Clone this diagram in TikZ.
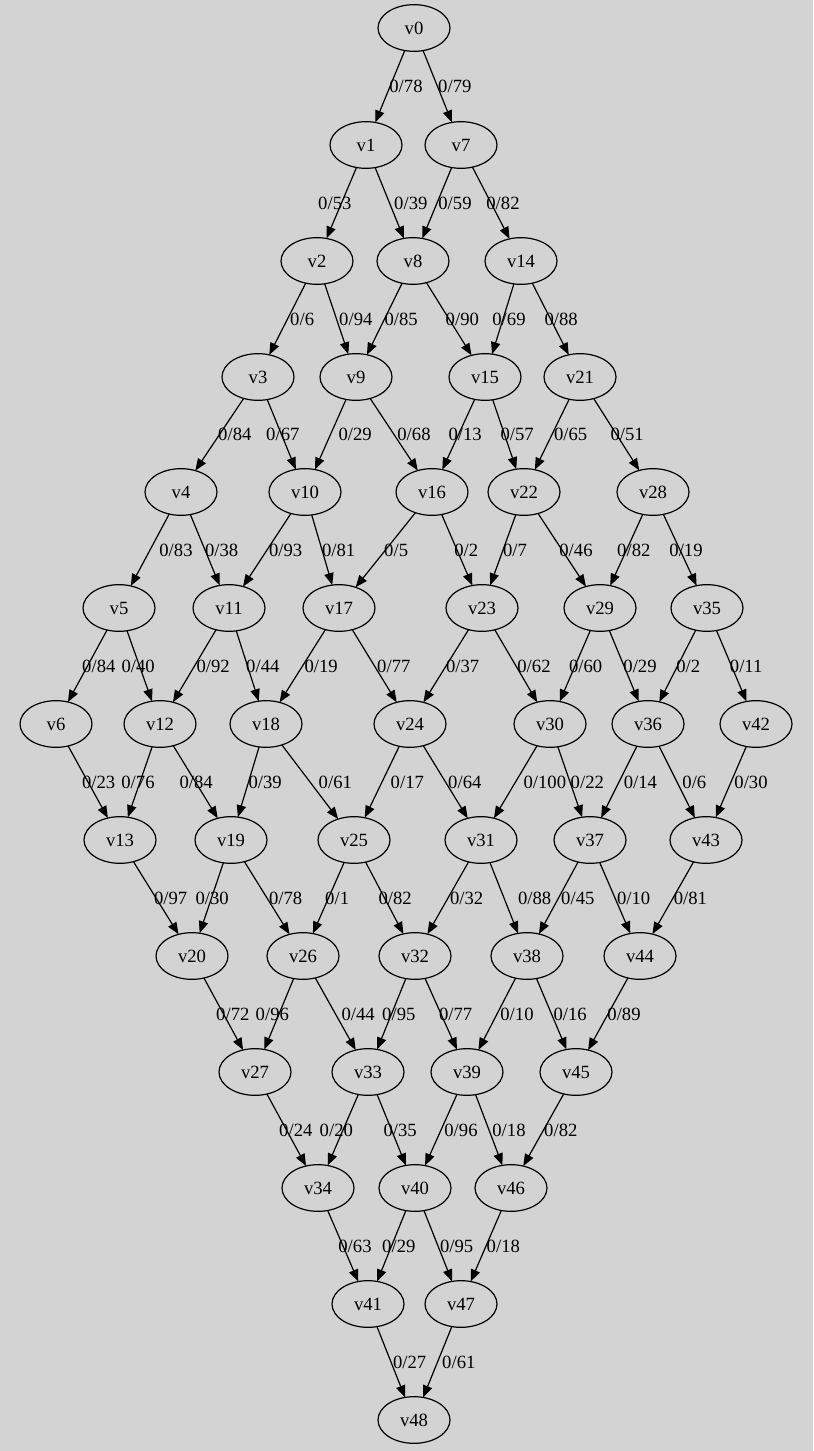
\documentclass[tikz,border=0pt]{standalone}
\usepackage{fontspec}
\setmainfont{Liberation Serif}
\usepackage{xcolor}
\usepackage{tikz}
\usetikzlibrary{shapes.geometric, arrows.meta}
\definecolor{bggray}{RGB}{211,211,211}
\tikzstyle{vertex} = [draw, ellipse, line width=0.9pt, minimum width=54pt, minimum height=35pt, inner sep=0pt, outer sep=0pt, font=\fontsize{14}{16}\selectfont]
\tikzstyle{arrow} = [line width=0.9pt, -{Triangle[length=9pt, width=7pt]}]
\tikzstyle{weight} = [inner sep=0pt, font=\fontsize{14}{16}\selectfont]

\begin{document}
\begin{tikzpicture}[x=0.75pt, y=-0.75pt]
\fill[bggray] (0,0) rectangle (813,1451);
\useasboundingbox (0,0) rectangle (813,1451);
% Vertices
\node[vertex] (v0) at (414,28) {v0};

\node[vertex] (v1) at (366,145) {v1};
\node[vertex] (v7) at (461,145) {v7};

\node[vertex] (v2) at (317,261) {v2};
\node[vertex] (v8) at (413,261) {v8};
\node[vertex] (v14) at (521,261) {v14};

\node[vertex] (v3) at (258,377) {v3};
\node[vertex] (v9) at (356,377) {v9};
\node[vertex] (v15) at (485,377) {v15};
\node[vertex] (v21) at (580,377) {v21};

\node[vertex] (v4) at (181,492) {v4};
\node[vertex] (v10) at (305,492) {v10};
\node[vertex] (v16) at (432,492) {v16};
\node[vertex] (v22) at (524,492) {v22};
\node[vertex] (v28) at (653,492) {v28};

\node[vertex] (v5) at (119,608) {v5};
\node[vertex] (v11) at (229,608) {v11};
\node[vertex] (v17) at (339,608) {v17};
\node[vertex] (v23) at (482,608) {v23};
\node[vertex] (v29) at (600,608) {v29};
\node[vertex] (v35) at (707,608) {v35};

\node[vertex] (v6) at (56,724) {v6};
\node[vertex] (v12) at (160,724) {v12};
\node[vertex] (v18) at (266,724) {v18};
\node[vertex] (v24) at (410,724) {v24};
\node[vertex] (v30) at (550,724) {v30};
\node[vertex] (v36) at (648,724) {v36};
\node[vertex] (v42) at (756,724) {v42};

\node[vertex] (v13) at (120,840) {v13};
\node[vertex] (v19) at (231,840) {v19};
\node[vertex] (v25) at (354,840) {v25};
\node[vertex] (v31) at (481,840) {v31};
\node[vertex] (v37) at (590,840) {v37};
\node[vertex] (v43) at (706,840) {v43};

\node[vertex] (v20) at (192,956) {v20};
\node[vertex] (v26) at (303,956) {v26};
\node[vertex] (v32) at (415,956) {v32};
\node[vertex] (v38) at (527,956) {v38};
\node[vertex] (v44) at (640,956) {v44};

\node[vertex] (v27) at (255,1072) {v27};
\node[vertex] (v33) at (368,1072) {v33};
\node[vertex] (v39) at (467,1072) {v39};
\node[vertex] (v45) at (576,1072) {v45};

\node[vertex] (v34) at (318,1188) {v34};
\node[vertex] (v40) at (415,1188) {v40};
\node[vertex] (v46) at (511,1188) {v46};

\node[vertex] (v41) at (368,1304) {v41};
\node[vertex] (v47) at (461,1304) {v47};

\node[vertex] (v48) at (414,1420) {v48};

% Edges (flow/capacity)
\draw[arrow] (v0) -- node[weight, xshift=12pt] {0/78} (v1);
\draw[arrow] (v0) -- node[weight, xshift=13pt] {0/79} (v7);

\draw[arrow] (v1) -- node[weight, xshift=-5pt] {0/53} (v2);
\draw[arrow] (v1) -- node[weight, xshift=16pt] {0/39} (v8);
\draw[arrow] (v7) -- node[weight, xshift=13.5pt] {0/59} (v8);
\draw[arrow] (v7) -- node[weight, xshift=9pt] {0/82} (v14);

\draw[arrow] (v2) -- node[weight, xshift=11pt] {0/6} (v3);
\draw[arrow] (v2) -- node[weight, xshift=14.5pt] {0/94} (v9);
\draw[arrow] (v8) -- node[weight, xshift=12.5pt] {0/85} (v9);
\draw[arrow] (v8) -- node[weight, xshift=10pt] {0/90} (v15);
\draw[arrow] (v14) -- node[weight, xshift=4.5pt] {0/69} (v15);
\draw[arrow] (v14) -- node[weight, xshift=8pt] {0/88} (v21);

\draw[arrow] (v3) -- node[weight, xshift=11.5pt] {0/84} (v4);
\draw[arrow] (v3) -- node[weight, xshift=1pt] {0/67} (v10);
\draw[arrow] (v9) -- node[weight, xshift=18.5pt] {0/29} (v10);
\draw[arrow] (v9) -- node[weight, xshift=15pt] {0/68} (v16);
\draw[arrow] (v15) -- node[weight, xshift=5pt] {0/13} (v16);
\draw[arrow] (v15) -- node[weight, xshift=9.5pt] {0/57} (v22);
\draw[arrow] (v21) -- node[weight, xshift=14pt] {0/65} (v22);
\draw[arrow] (v21) -- node[weight, xshift=8pt] {0/51} (v28);

\draw[arrow] (v4) -- node[weight, xshift=19.5pt] {0/83} (v5);
\draw[arrow] (v4) -- node[weight, xshift=12.5pt] {0/38} (v11);
\draw[arrow] (v10) -- node[weight, xshift=14pt] {0/93} (v11);
\draw[arrow] (v10) -- node[weight, xshift=12.5pt] {0/81} (v17);
\draw[arrow] (v16) -- node[weight, xshift=8pt] {0/5} (v17);
\draw[arrow] (v16) -- node[weight, xshift=7pt] {0/2} (v23);
\draw[arrow] (v22) -- node[weight, xshift=9pt] {0/7} (v23);
\draw[arrow] (v22) -- node[weight, xshift=10.5pt] {0/46} (v29);
\draw[arrow] (v28) -- node[weight, xshift=5.5pt] {0/82} (v29);
\draw[arrow] (v28) -- node[weight, xshift=4.5pt] {0/19} (v35);

\draw[arrow] (v5) -- node[weight, xshift=8.5pt] {0/84} (v6);
\draw[arrow] (v5) -- node[weight, xshift=-1pt] {0/40} (v12);
\draw[arrow] (v11) -- node[weight, xshift=14pt] {0/92} (v12);
\draw[arrow] (v11) -- node[weight, xshift=11.5pt] {0/44} (v18);
\draw[arrow] (v17) -- node[weight, xshift=14pt] {0/19} (v18);
\draw[arrow] (v17) -- node[weight, xshift=14.5pt] {0/77} (v24);
\draw[arrow] (v23) -- node[weight, xshift=12.5pt] {0/37} (v24);
\draw[arrow] (v23) -- node[weight, xshift=13.5pt] {0/62} (v30);
\draw[arrow] (v29) -- node[weight, xshift=8pt] {0/60} (v30);
\draw[arrow] (v29) -- node[weight, xshift=12pt] {0/29} (v36);
\draw[arrow] (v35) -- node[weight, xshift=8pt] {0/2} (v36);
\draw[arrow] (v35) -- node[weight, xshift=11pt] {0/11} (v42);

\draw[arrow] (v6) -- node[weight, xshift=8pt] {0/23} (v13);
\draw[arrow] (v12) -- node[weight, xshift=-1.5pt] {0/76} (v13);
\draw[arrow] (v12) -- node[weight, xshift=0.5pt] {0/84} (v19);
\draw[arrow] (v18) -- node[weight, xshift=12.5pt] {0/39} (v19);
\draw[arrow] (v18) -- node[weight, xshift=19pt] {0/61} (v25);
\draw[arrow] (v24) -- node[weight, xshift=19pt] {0/17} (v25);
\draw[arrow] (v24) -- node[weight, xshift=14.5pt] {0/64} (v31);
\draw[arrow] (v30) -- node[weight, xshift=22pt] {0/100} (v31);
\draw[arrow] (v30) -- node[weight, xshift=13pt] {0/22} (v37);
\draw[arrow] (v36) -- node[weight, xshift=16pt] {0/14} (v37);
\draw[arrow] (v36) -- node[weight, xshift=13pt] {0/6} (v43);
\draw[arrow] (v42) -- node[weight, xshift=15pt] {0/30} (v43);

\draw[arrow] (v13) -- node[weight, xshift=11pt] {0/97} (v20);
\draw[arrow] (v19) -- node[weight, xshift=0.5pt] {0/30} (v20);
\draw[arrow] (v19) -- node[weight, xshift=14pt] {0/78} (v26);
\draw[arrow] (v25) -- node[weight, xshift=6.5pt] {0/1} (v26);
\draw[arrow] (v25) -- node[weight, xshift=8pt] {0/82} (v32);
\draw[arrow] (v31) -- node[weight, xshift=14pt] {0/32} (v32);
\draw[arrow] (v31) -- node[weight, xshift=23pt] {0/88} (v38);
\draw[arrow] (v37) -- node[weight, xshift=14.5pt] {0/45} (v38);
\draw[arrow] (v37) -- node[weight, xshift=14pt] {0/10} (v44);
\draw[arrow] (v43) -- node[weight, xshift=13pt] {0/81} (v44);

\draw[arrow] (v20) -- node[weight, xshift=7pt] {0/72} (v27);
\draw[arrow] (v26) -- node[weight, xshift=-5pt] {0/96} (v27);
\draw[arrow] (v26) -- node[weight, xshift=17pt] {0/44} (v33);
\draw[arrow] (v32) -- node[weight, xshift=5.5pt] {0/95} (v33);
\draw[arrow] (v32) -- node[weight, xshift=11pt] {0/77} (v39);
\draw[arrow] (v38) -- node[weight, xshift=15pt] {0/10} (v39);
\draw[arrow] (v38) -- node[weight, xshift=14pt] {0/16} (v45);
\draw[arrow] (v44) -- node[weight, xshift=12pt] {0/89} (v45);

\draw[arrow] (v27) -- node[weight, xshift=7pt] {0/24} (v34);
\draw[arrow] (v33) -- node[weight, xshift=-5pt] {0/20} (v34);
\draw[arrow] (v33) -- node[weight, xshift=6.5pt] {0/35} (v40);
\draw[arrow] (v39) -- node[weight, xshift=15pt] {0/96} (v40);
\draw[arrow] (v39) -- node[weight, xshift=15pt] {0/18} (v46);
\draw[arrow] (v45) -- node[weight, xshift=13pt] {0/82} (v46);

\draw[arrow] (v34) -- node[weight, xshift=9pt] {0/63} (v41);
\draw[arrow] (v40) -- node[weight, xshift=5.5pt] {0/29} (v41);
\draw[arrow] (v40) -- node[weight, xshift=14pt] {0/95} (v47);
\draw[arrow] (v46) -- node[weight, xshift=13pt] {0/18} (v47);

\draw[arrow] (v41) -- node[weight, xshift=14pt] {0/27} (v48);
\draw[arrow] (v47) -- node[weight, xshift=16pt] {0/61} (v48);
\end{tikzpicture}
\end{document}
